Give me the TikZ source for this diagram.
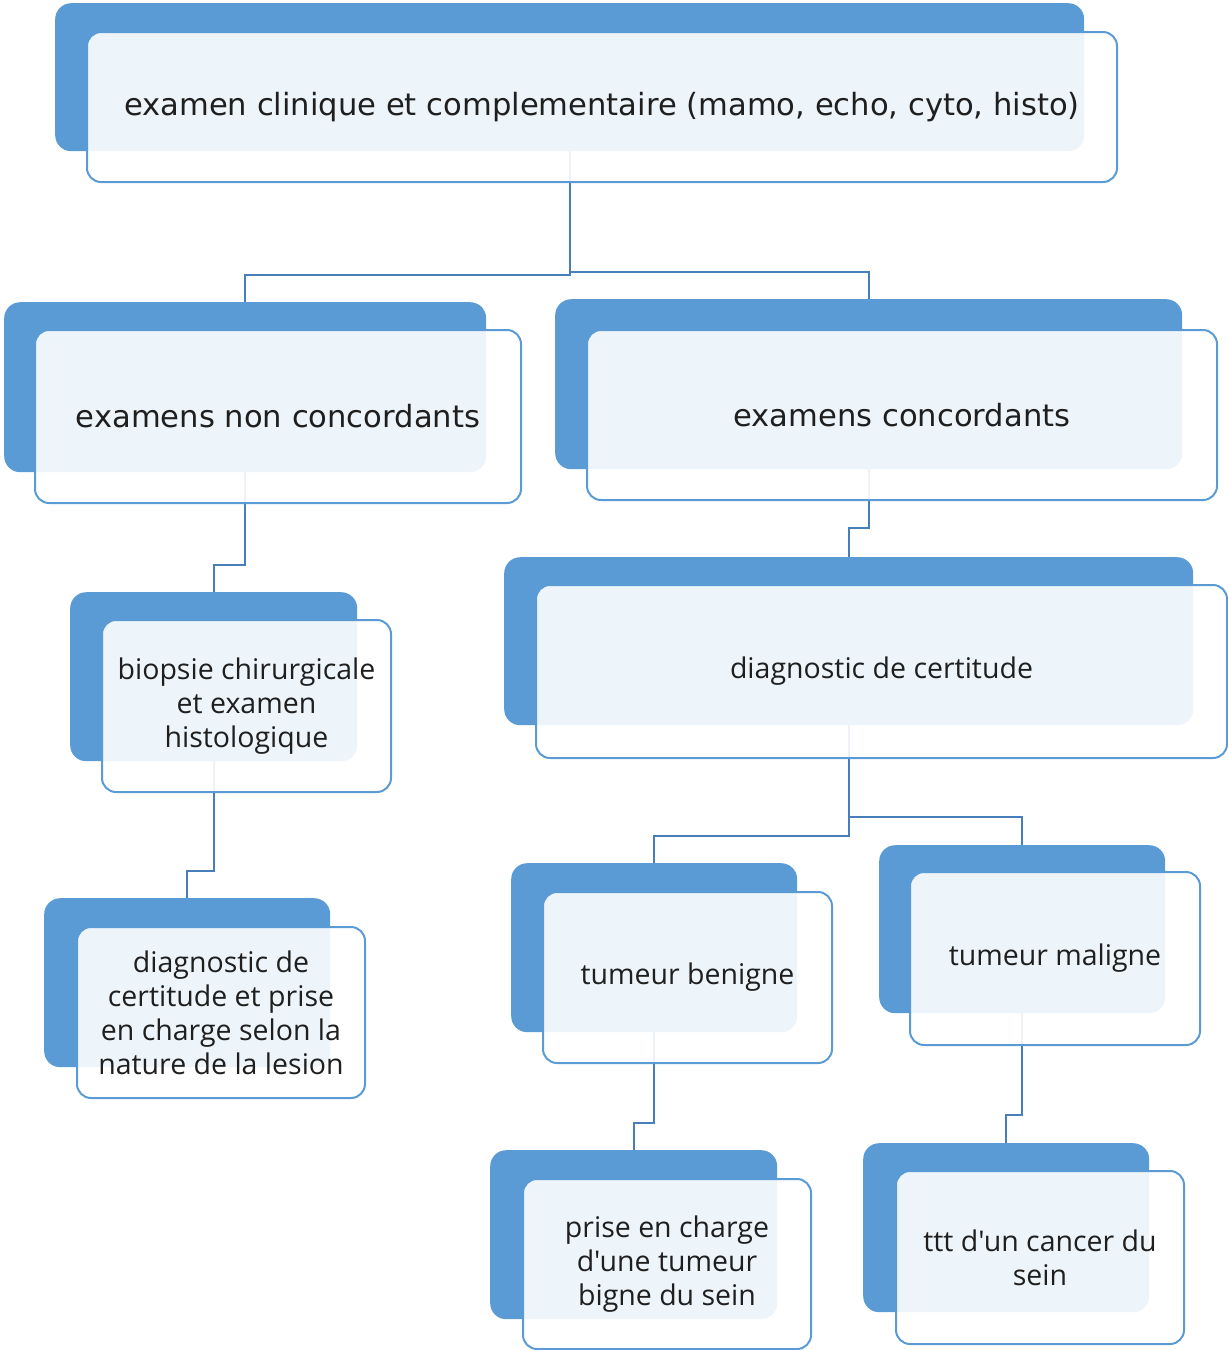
\documentclass[tikz,border=0pt]{standalone}
\usepackage{fontspec}
% plain families (no TeX ligature mapping, so apostrophes stay straight)
\newfontfamily\bodyfont{Open Sans}
\newfontfamily\widefont{DejaVu Sans}
\definecolor{accent}{HTML}{5B9BD5}
\definecolor{linkc}{RGB}{72,126,186}
\begin{document}
\begin{tikzpicture}[x=1pt,y=-1pt,
  backbox/.style={fill=accent, draw=none, rounded corners=16pt, anchor=north west, inner sep=0pt},
  frontbox/.style={fill=white, fill opacity=0.9, text opacity=1, draw=accent, line width=2pt,
    rounded corners=14pt, anchor=north west, inner sep=0pt, align=center,
    font=\bodyfont\fontsize{28.5}{34}\selectfont, text=black!88},
  widetext/.style={font=\widefont\fontsize{30.6}{34}\selectfont},
  link/.style={draw=linkc, line width=2.2pt}]
\useasboundingbox (0,0) rectangle (1228,1350);

% back panels (x, y, width, height)
\node[backbox, minimum width=1029pt, minimum height=148pt] (b1) at (55,3) {};
\node[backbox, minimum width=482pt, minimum height=170pt] (b2) at (4,302) {};
\node[backbox, minimum width=627pt, minimum height=170pt] (b3) at (555,299) {};
\node[backbox, minimum width=287pt, minimum height=169pt] (b4) at (70,592) {};
\node[backbox, minimum width=689pt, minimum height=168pt] (b5) at (504,557) {};
\node[backbox, minimum width=286pt, minimum height=169pt] (b6) at (44,898) {};
\node[backbox, minimum width=286pt, minimum height=169pt] (b7) at (511,863) {};
\node[backbox, minimum width=286pt, minimum height=168pt] (b8) at (879,845) {};
\node[backbox, minimum width=287pt, minimum height=169pt] (b9) at (490,1150) {};
\node[backbox, minimum width=286pt, minimum height=169pt] (b10) at (863,1143) {};

% elbow connectors between the panels
\draw[link] (b1.south) -- (b1.south |- 0,275) -| (b2.north);
\draw[link] (b1.south |- 0,272) -| (b3.north);
\draw[link] (b2.south) -- (b2.south |- 0,565) -| (b4.north);
\draw[link] (b3.south) -- (b3.south |- 0,528) -| (b5.north);
\draw[link] (b5.south) -- (b5.south |- 0,836) -| (b7.north);
\draw[link] (b5.south |- 0,817) -| (b8.north);
\draw[link] (b4.south) -- (b4.south |- 0,871) -| (b6.north);
\draw[link] (b7.south) -- (b7.south |- 0,1123) -| (b9.north);
\draw[link] (b8.south) -- (b8.south |- 0,1115) -| (b10.north);

% front cards with the texts
\node[frontbox, widetext, minimum width=1030pt, minimum height=150pt] (f1) at (86,31)
  {examen clinique et complementaire (mamo, echo, cyto, histo)};
\node[frontbox, widetext, minimum width=486pt, minimum height=173pt] (f2) at (34,329)
  {examens non concordants};
\node[frontbox, widetext, minimum width=630pt, minimum height=170pt] (f3) at (586,329)
  {examens concordants};
\node[frontbox, minimum width=289pt, minimum height=172pt] (f4) at (101,619)
  {biopsie chirurgicale\\et examen\\histologique};
\node[frontbox, minimum width=691pt, minimum height=173pt] (f5) at (535,584)
  {diagnostic de certitude};
\node[frontbox, minimum width=288pt, minimum height=171pt] (f6) at (76,926)
  {diagnostic de\\certitude et prise\\en charge selon la\\nature de la lesion};
\node[frontbox, minimum width=289pt, minimum height=171pt] (f7) at (542,891)
  {tumeur benigne};
\node[frontbox, minimum width=290pt, minimum height=173pt] (f8) at (909,871)
  {tumeur maligne};
\node[frontbox, minimum width=288pt, minimum height=170pt] (f9) at (522,1178)
  {prise en charge\\d'une tumeur\\bigne du sein};
\node[frontbox, minimum width=288pt, minimum height=173pt] (f10) at (895,1170)
  {ttt d'un cancer du\\sein};
\end{tikzpicture}
\end{document}
